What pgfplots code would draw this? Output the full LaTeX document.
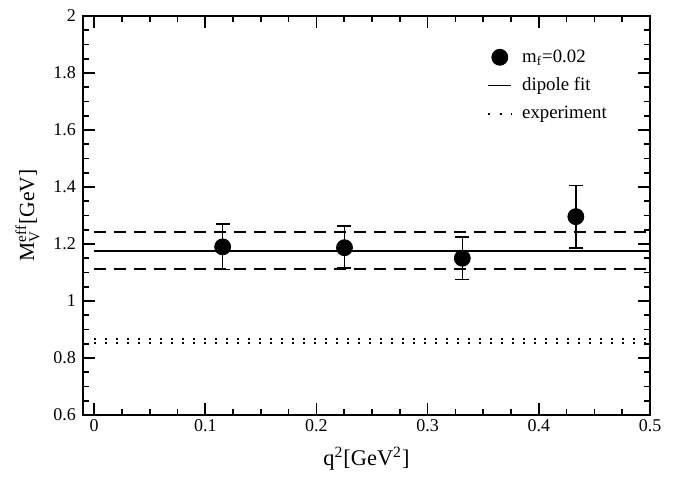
\documentclass[border=0pt]{standalone}
\usepackage{fontspec}
\setmainfont{Liberation Serif}
\usepackage{pgfplots}
\pgfplotsset{compat=1.18}

\pgfplotstableread{
x       y      ep     em
0.1156  1.190  0.081  0.080
0.2252  1.187  0.077  0.072
0.3312  1.150  0.074  0.074
0.4333  1.296  0.109  0.111
}\mvdata

\begin{document}
\begin{tikzpicture}
\begin{axis}[
  scale only axis, width=283.5pt, height=199.5pt,
  xmin=-0.01, xmax=0.5, ymin=0.6, ymax=2,
  xtick={0,0.1,0.2,0.3,0.4,0.5},
  ytick={0.6,0.8,1,1.2,1.4,1.6,1.8,2},
  minor x tick num=3, minor y tick num=3,
  tick align=inside, major tick length=6pt, minor tick length=3pt,
  axis line style={line width=1pt},
  every tick/.style={black, line width=0.8pt},
  /pgf/number format/assume math mode=true,
  tick label style={font=\fontsize{9}{10}\selectfont},
  xticklabel style={yshift=1.5pt},
  xlabel={q$^{\mathrm{2}}$[GeV$^{\mathrm{2}}$]},
  ylabel={$\mathrm{M}_{\mathrm{V}}^{\mathrm{eff}}$[GeV]},
  xlabel style={font=\fontsize{11.2}{13}\selectfont, yshift=-1pt},
  ylabel style={font=\fontsize{10.8}{13}\selectfont},
  legend style={draw=none, fill=none, at={(0.702,0.937)}, anchor=north west,
    font=\fontsize{9.4}{11}\selectfont, row sep=2.2pt,
    /tikz/every odd column/.append style={column sep=3pt}},
  legend cell align=left,
  legend image code/.code={\draw[mark repeat=2,mark phase=2,#1]
    plot coordinates {(0cm,0cm) (0.2cm,0cm) (0.4cm,0cm)};},
]
% legend entries
\addlegendimage{only marks, mark=*, mark size=4pt, black}
\addlegendentry{m$_{\mathrm{f}}$=0.02}
\addlegendimage{black, line width=0.8pt}
\addlegendentry{dipole fit}
\addlegendimage{black, line width=1pt, dash pattern=on 1pt off 4.6pt}
\addlegendentry{experiment}

% dipole fit with band
\addplot[black, line width=0.8pt, forget plot] coordinates {(0,1.176) (0.5,1.176)};
\addplot[black, line width=0.8pt, dash pattern=on 6pt off 4pt, forget plot]
  coordinates {(0,1.242) (0.5,1.242)};
\addplot[black, line width=0.8pt, dash pattern=on 6pt off 4pt, forget plot]
  coordinates {(0,1.113) (0.5,1.113)};

% experiment
\addplot[black, line width=1pt, dash pattern=on 1pt off 4.5pt, forget plot]
  coordinates {(0,0.866) (0.5,0.866)};
\addplot[black, line width=1pt, dash pattern=on 1pt off 4.5pt, forget plot]
  coordinates {(0,0.853) (0.5,0.853)};

% lattice data
\addplot[black, only marks, mark=*, mark size=4pt, forget plot,
  error bars/.cd, y dir=both, y explicit,
  error bar style={line width=0.8pt},
  error mark options={rotate=90, mark size=3.5pt, line width=0.8pt}]
  table[x=x, y=y, y error plus=ep, y error minus=em] {\mvdata};
\end{axis}
\path (current axis.south west) +(-41.5pt,-30pt);
\path (current axis.south west) +(300.5pt,207.5pt);
\end{tikzpicture}
\end{document}
